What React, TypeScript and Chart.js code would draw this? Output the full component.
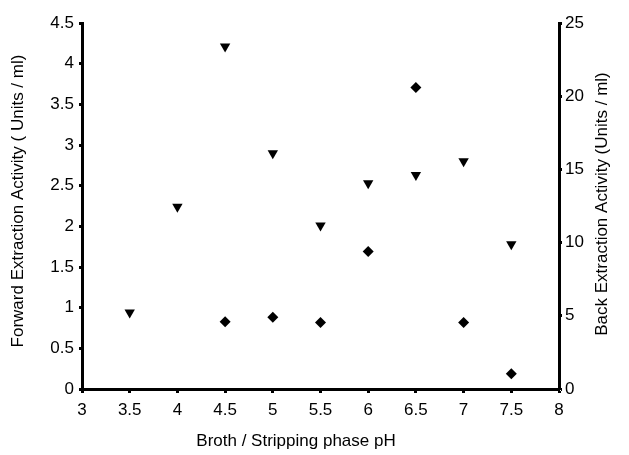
import React, { useEffect, useRef } from "react";
import { Chart, registerables } from "chart.js";

Chart.register(...registerables);

const forwardPH = [3.5, 4.0, 4.5, 5.0, 5.5, 6.0, 6.5, 7.0, 7.5];
const forwardValues = [0.94, 2.24, 4.21, 2.9, 2.01, 2.53, 2.63, 2.8, 1.78];
const backPH = [4.5, 5.0, 5.5, 6.0, 6.5, 7.0, 7.5];
const backValues = [4.6, 4.9, 4.55, 9.4, 20.6, 4.55, 1.05];

const xTitle = "Broth / Stripping phase pH";
const yLeftTitle = "Forward Extraction Activity ( Units / ml)";
const yRightTitle = "Back Extraction Activity (Units / ml)";

const FONT = "'Liberation Sans', Arial, sans-serif";

const titlePlugin = {
  id: "axisTitles",
  afterDraw(chart: any) {
    const { ctx } = chart;
    ctx.save();
    ctx.fillStyle = "#000";
    ctx.font = `17px ${FONT}`;
    ctx.textAlign = "center";
    ctx.textBaseline = "middle";
    ctx.fillText(xTitle, 296, 441);
    ctx.save();
    ctx.translate(18, 201);
    ctx.rotate(-Math.PI / 2);
    ctx.fillText(yLeftTitle, 0, 0);
    ctx.restore();
    ctx.save();
    ctx.translate(602, 204);
    ctx.rotate(-Math.PI / 2);
    ctx.fillText(yRightTitle, 0, 0);
    ctx.restore();
    ctx.restore();
  },
};

const fmt = (v: any) => String(Math.round(Number(v) * 100) / 100);

export default function App() {
  const ref = useRef<HTMLCanvasElement>(null);
  useEffect(() => {
    if (!ref.current) return;
    const tickFont = { family: FONT, size: 17 };
    const chart = new Chart(ref.current, {
      type: "scatter",
      data: {
        datasets: [
          {
            label: "Forward",
            data: forwardPH.map((x, i) => ({ x, y: forwardValues[i] })),
            yAxisID: "y",
            pointStyle: "triangle",
            rotation: 180,
            pointRadius: 6,
            backgroundColor: "#000",
            borderColor: "#000",
            borderWidth: 0,
          },
          {
            label: "Back",
            data: backPH.map((x, i) => ({ x, y: backValues[i] })),
            yAxisID: "y2",
            pointStyle: "rectRot",
            pointRadius: 5.5,
            backgroundColor: "#000",
            borderColor: "#000",
            borderWidth: 0,
          },
        ],
      },
      options: {
        animation: false,
        responsive: true,
        maintainAspectRatio: false,
        layout: { padding: { top: 23, left: 0, right: 0, bottom: 0 } },
        plugins: { legend: { display: false }, tooltip: { enabled: false } },
        scales: {
          x: {
            type: "linear",
            position: "bottom",
            min: 3,
            max: 8,
            ticks: { stepSize: 0.5, font: tickFont, color: "#000", padding: 7, maxRotation: 0, autoSkip: false, callback: fmt },
            grid: { drawOnChartArea: false, tickLength: 4, tickColor: "#000", tickWidth: 3 },
            border: { display: true, color: "#000", width: 3 },
            afterFit: (s: any) => { s.height = 66; },
          },
          y: {
            type: "linear",
            position: "left",
            min: 0,
            max: 4.5,
            ticks: { stepSize: 0.5, font: tickFont, color: "#000", padding: 5, callback: fmt },
            grid: { drawOnChartArea: false, tickLength: 3, tickColor: "#000", tickWidth: 3 },
            border: { display: true, color: "#000", width: 3 },
            afterFit: (s: any) => { s.width = 82; },
          },
          y2: {
            type: "linear",
            position: "right",
            min: 0,
            max: 25,
            ticks: { stepSize: 5, font: tickFont, color: "#000", padding: 3, callback: fmt },
            grid: { drawOnChartArea: false, tickLength: 3, tickColor: "#000", tickWidth: 3 },
            border: { display: true, color: "#000", width: 3 },
            afterFit: (s: any) => { s.width = 70; },
          },
        },
      },
      plugins: [titlePlugin],
    } as any);
    return () => chart.destroy();
  }, []);
  return (
    <div style={{ position: "absolute", left: 0, top: 0, width: 629, height: 455, background: "#fff" }}>
      <canvas ref={ref} />
    </div>
  );
}
